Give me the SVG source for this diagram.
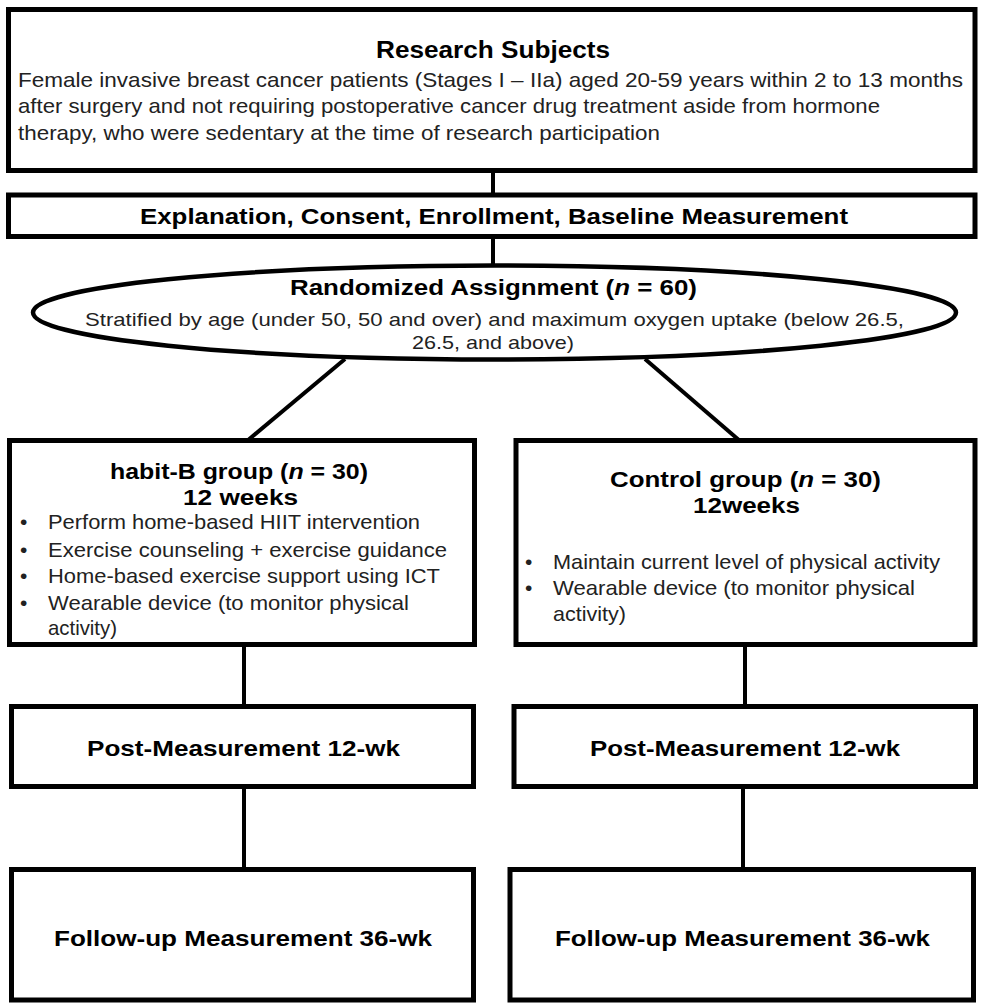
<svg xmlns="http://www.w3.org/2000/svg" width="981" height="1004" viewBox="0 0 981 1004">
<style>
.box{fill:#fff;stroke:#000;stroke-width:5}
.ell{fill:#fff;stroke:#000;stroke-width:4.5}
.con{stroke:#000;stroke-width:4;fill:none}
.b{font-family:"Liberation Sans",Arial,sans-serif;font-weight:bold;fill:#000}
.t{font-family:"Liberation Sans",Arial,sans-serif;fill:#222}
.i{font-style:italic}
</style>
<rect width="981" height="1004" fill="#fff"/>
<g id="connectors">
<line class="con" x1="493" y1="170" x2="493" y2="195"/>
<line class="con" x1="493" y1="236" x2="493" y2="266"/>
<line class="con" x1="345" y1="359" x2="247" y2="441"/>
<line class="con" x1="645" y1="359" x2="740" y2="441"/>
<line class="con" x1="244" y1="644" x2="244" y2="707"/>
<line class="con" x1="745" y1="644" x2="745" y2="707"/>
<line class="con" x1="244" y1="786" x2="244" y2="870"/>
<line class="con" x1="743" y1="786" x2="743" y2="870"/>
</g>
<g id="research-subjects">
<rect class="box" x="8.5" y="9.5" width="966.5" height="161"/>
<text class="b" x="376" y="58" font-size="23" textLength="234" lengthAdjust="spacingAndGlyphs">Research Subjects</text>
<text class="t" x="18" y="87" font-size="21" textLength="945" lengthAdjust="spacingAndGlyphs">Female invasive breast cancer patients (Stages I – IIa)  aged 20-59 years within 2 to 13 months</text>
<text class="t" x="18" y="113" font-size="21" textLength="862" lengthAdjust="spacingAndGlyphs">after surgery and not requiring postoperative cancer drug treatment aside from hormone</text>
<text class="t" x="18" y="140" font-size="21" textLength="642" lengthAdjust="spacingAndGlyphs">therapy,  who were sedentary at the time of research participation</text>
</g>
<g id="enrollment">
<rect class="box" x="8.5" y="195" width="966.5" height="41.5"/>
<text class="b" x="140" y="224" font-size="22" textLength="708" lengthAdjust="spacingAndGlyphs">Explanation, Consent, Enrollment, Baseline Measurement</text>
</g>
<g id="randomized">
<ellipse class="ell" cx="494.5" cy="312.5" rx="461.5" ry="47"/>
<text class="b" x="290" y="295" font-size="22" textLength="407" lengthAdjust="spacingAndGlyphs">Randomized Assignment (<tspan class="i">n</tspan> = 60)</text>
<text class="t" x="85" y="326" font-size="19" textLength="819" lengthAdjust="spacingAndGlyphs">Stratified by age (under 50, 50 and over) and maximum  oxygen uptake (below 26.5,</text>
<text class="t" x="412" y="349" font-size="19" textLength="162" lengthAdjust="spacingAndGlyphs">26.5, and above)</text>
</g>
<g id="habit-b-group">
<rect class="box" x="9.5" y="440.5" width="465" height="204"/>
<text class="b" x="110" y="479" font-size="22" textLength="258" lengthAdjust="spacingAndGlyphs">habit-B group (<tspan class="i">n</tspan> = 30)</text>
<text class="b" x="183" y="505" font-size="22" textLength="115" lengthAdjust="spacingAndGlyphs">12 weeks</text>
<g class="t" font-size="21">
<text x="20" y="529">•</text>
<text x="48" y="529" textLength="372" lengthAdjust="spacingAndGlyphs">Perform home-based HIIT  intervention</text>
<text x="20" y="557">•</text>
<text x="48" y="557" textLength="399" lengthAdjust="spacingAndGlyphs">Exercise counseling + exercise guidance</text>
<text x="20" y="583">•</text>
<text x="48" y="583" textLength="392" lengthAdjust="spacingAndGlyphs">Home-based exercise support using ICT</text>
<text x="20" y="610">•</text>
<text x="48" y="610" textLength="361" lengthAdjust="spacingAndGlyphs">Wearable device (to monitor physical</text>
<text x="48" y="635" textLength="69" lengthAdjust="spacingAndGlyphs">activity)</text>
</g>
</g>
<g id="control-group">
<rect class="box" x="516" y="440.5" width="459" height="204"/>
<text class="b" x="610" y="487" font-size="22" textLength="271" lengthAdjust="spacingAndGlyphs">Control group (<tspan class="i">n</tspan> = 30)</text>
<text class="b" x="693" y="513" font-size="22" textLength="107" lengthAdjust="spacingAndGlyphs">12weeks</text>
<g class="t" font-size="21">
<text x="525" y="569">•</text>
<text x="553" y="569" textLength="387" lengthAdjust="spacingAndGlyphs">Maintain current level of physical activity</text>
<text x="525" y="595">•</text>
<text x="553" y="595" textLength="362" lengthAdjust="spacingAndGlyphs">Wearable device (to monitor physical</text>
<text x="553" y="621" textLength="73" lengthAdjust="spacingAndGlyphs">activity)</text>
</g>
</g>
<g id="post-left">
<rect class="box" x="11.5" y="706.5" width="462" height="80"/>
<text class="b" x="87" y="756" font-size="22" textLength="313" lengthAdjust="spacingAndGlyphs">Post-Measurement 12-wk</text>
</g>
<g id="post-right">
<rect class="box" x="514" y="706.5" width="461.5" height="80"/>
<text class="b" x="590" y="756" font-size="22" textLength="310" lengthAdjust="spacingAndGlyphs">Post-Measurement 12-wk</text>
</g>
<g id="followup-left">
<rect class="box" x="11.5" y="869.5" width="462" height="130.5"/>
<text class="b" x="54" y="946" font-size="22" textLength="378" lengthAdjust="spacingAndGlyphs">Follow-up Measurement 36-wk</text>
</g>
<g id="followup-right">
<rect class="box" x="510" y="869.5" width="463.5" height="130.5"/>
<text class="b" x="555" y="946" font-size="22" textLength="375" lengthAdjust="spacingAndGlyphs">Follow-up Measurement 36-wk</text>
</g>
</svg>
